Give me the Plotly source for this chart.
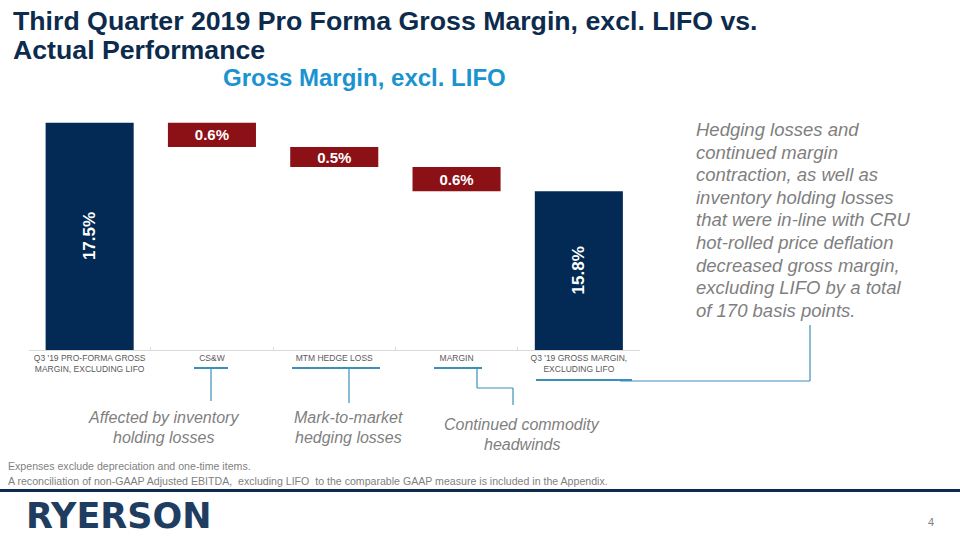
import plotly.graph_objects as go

# ---- data ----
categories = ["Q3 '19 PRO-FORMA GROSS<br>MARGIN, EXCLUDING LIFO", "CS&W", "MTM HEDGE LOSS",
              "MARGIN", "Q3 '19 GROSS MARGIN,<br>EXCLUDING LIFO"]
start_value = 17.5
changes = [-0.6, -0.5, -0.6]
end_value = 15.8
change_labels = ["0.6%", "0.5%", "0.6%"]
total_labels = ["17.5%", "15.8%"]
callouts = [["Affected by inventory", "holding losses"], ["Mark-to-market", "hedging losses"],
            ["Continued commodity", "headwinds"]]
side_note = ["Hedging losses and", "continued margin", "contraction, as well as",
             "inventory holding losses", "that were in-line with CRU", "hot-rolled price deflation",
             "decreased gross margin,", "excluding LIFO by a total", "of 170 basis points."]
title_lines = ["Third Quarter 2019 Pro Forma Gross Margin, excl. LIFO vs.", "Actual Performance"]
subtitle = "Gross Margin, excl. LIFO"
footnotes = ["Expenses exclude depreciation and one-time items.",
             "A reconciliation of non-GAAP Adjusted EBITDA,  excluding LIFO  to the comparable GAAP measure is included in the Appendix."]

NAVY = "#022a55"
RED = "#8c1117"
BLUE = "#3b8fbb"
GRAY = "#7f7f7f"
W, H = 960, 540
Y_FLOOR = 11.85
Y_TOP = 17.82
FONT = "Liberation Sans"


def px(x):
    return x / W


def py(y):
    return 1 - y / H


# running totals for floating bars
bases = []
run = start_value
for c in changes:
    run += c
    bases.append(run)

fig = go.Figure()
fig.add_trace(go.Bar(
    x=[categories[0], categories[4]], y=[start_value, end_value], base=0,
    marker=dict(color=NAVY, line=dict(width=0)), width=0.72, hoverinfo="skip"))
fig.add_trace(go.Bar(
    x=categories[1:4], y=[-c for c in changes], base=bases,
    marker=dict(color=RED, line=dict(width=0)), width=0.72,
    text=change_labels, textposition="inside", insidetextanchor="middle",
    constraintext="none",
    textfont=dict(color="white", size=15, family=FONT, weight="bold"),
    hoverinfo="skip"))

# rotated labels for total bars
for cat, val, lab in [(categories[0], start_value, total_labels[0]), (categories[4], end_value, total_labels[1])]:
    fig.add_annotation(x=cat, y=(val + Y_FLOOR) / 2, xref="x", yref="y", text=lab, textangle=-90,
                       showarrow=False, font=dict(color="white", size=17, family=FONT, weight="bold"))

fig.update_layout(
    width=W, height=H, margin=dict(l=0, r=0, t=0, b=0),
    paper_bgcolor="white", plot_bgcolor="white", barmode="overlay", showlegend=False,
    xaxis=dict(domain=[px(28.5), px(640)], showline=True, linecolor="#d9d9d9", linewidth=1,
               categoryorder="array", categoryarray=categories,
               ticks="inside", tickson="boundaries", ticklen=3, tickcolor="#d9d9d9",
               showgrid=False, tickfont=dict(size=8.5, color="#595959", family=FONT),
               fixedrange=True),
    yaxis=dict(domain=[py(350), py(110)], range=[Y_FLOOR, Y_TOP], visible=False, fixedrange=True),
)


def text(x, y, t, size, color, anchor="left", **fkw):
    fig.add_annotation(xref="paper", yref="paper", x=px(x), y=py(y), xanchor=anchor, yanchor="middle",
                       showarrow=False, text=t, borderpad=0,
                       font=dict(size=size, color=color, family=FONT, **fkw))


# titles
text(12, 21, title_lines[0], 26.7, "#0d2b4d", weight="bold")
text(12, 50, title_lines[1], 26.7, "#0d2b4d", weight="bold")
text(364, 78, subtitle, 24, "#1b93cf", anchor="center", weight="bold")

# side note
for i, t in enumerate(side_note):
    text(695, 129.5 + 22.6 * i, t, 18.5, GRAY, style="italic")

# callouts
for cx, cy, lines in zip([163, 348, 522], [417, 417, 424], callouts):
    for j, t in enumerate(lines):
        text(cx, cy + 20 * j, t, 16, GRAY, anchor="center", style="italic")


# connector lines
def line(x0, y0, x1, y1, w=1.2):
    fig.add_shape(type="line", xref="paper", yref="paper", x0=px(x0), y0=py(y0), x1=px(x1), y1=py(y1),
                  line=dict(color=BLUE, width=w))


line(194, 368, 228, 368, 2.2)
line(211, 368, 211, 401)
line(292, 368, 380, 368, 2.2)
line(349, 368, 349, 403)
line(434, 368, 482, 368, 2.2)
line(477, 368, 477, 388)
line(477, 388, 513, 388)
line(513, 388, 513, 405)
line(536, 380, 632, 380, 2.2)
line(620, 381, 810, 381)
line(810, 381, 810, 325)

# footnote
text(7, 466, footnotes[0], 10.6, GRAY)
text(7, 481, footnotes[1], 10.6, GRAY)

# band + logo + page
fig.add_shape(type="rect", xref="paper", yref="paper", x0=0, x1=1, y0=py(492), y1=py(489),
              fillcolor="#0c2b4e", line=dict(width=0))
fig.add_annotation(xref="paper", yref="paper", x=px(25), y=py(516), xanchor="left", yanchor="middle",
                   showarrow=False, text="RYERSON", borderpad=0,
                   font=dict(size=35, color="#1e3d60", family="DejaVu Sans", weight="bold"))
text(931, 522, "4", 11, GRAY, anchor="center")

fig.write_html("out.html", config={"displayModeBar": False},
               post_script="document.body.style.margin='0';")
